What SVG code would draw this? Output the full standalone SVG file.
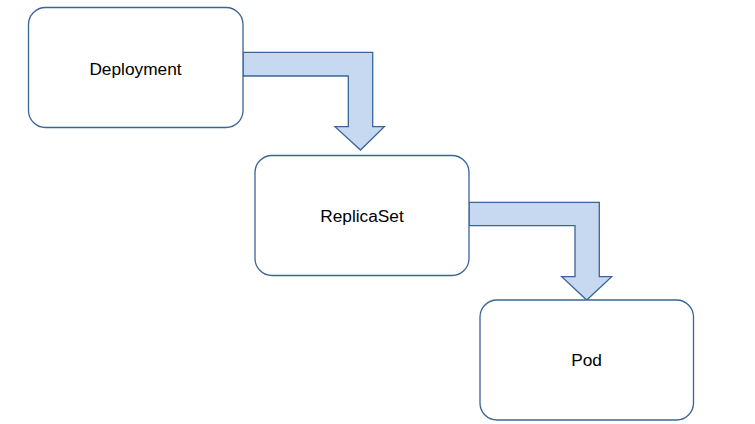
<svg xmlns="http://www.w3.org/2000/svg" width="755" height="424" viewBox="0 0 755 424">
<style>
.box{fill:#ffffff;stroke:#3a6596;stroke-width:1.3}
.arrow{fill:#c6d9f1;stroke:#3a6596;stroke-width:1.3;stroke-linejoin:miter}
.lbl{font-family:"Liberation Sans",Arial,sans-serif;font-size:17.3px;fill:#000;text-anchor:middle;dominant-baseline:central}
</style>
<rect width="755" height="424" fill="#ffffff"/>
<g id="connectors">
<path class="arrow" d="M243,52.3 H372.7 V126.7 H384.3 L360.5,150 L335,126.7 H348.3 V76 H243 Z"/>
<path class="arrow" d="M469,202.3 H599.3 V276.7 H611.7 L586.7,300 L561.7,276.7 H575 V225.7 H469 Z"/>
</g>
<g id="deployment">
<rect class="box" x="28.5" y="7.5" width="214.5" height="120" rx="17" ry="17"/>
<text class="lbl" x="135.5" y="69">Deployment</text>
</g>
<g id="replicaset">
<rect class="box" x="255" y="155.5" width="214" height="120" rx="17" ry="17"/>
<text class="lbl" x="362" y="216">ReplicaSet</text>
</g>
<g id="pod">
<rect class="box" x="480" y="300" width="213.5" height="120" rx="17" ry="17"/>
<text class="lbl" x="586.5" y="360">Pod</text>
</g>
</svg>
